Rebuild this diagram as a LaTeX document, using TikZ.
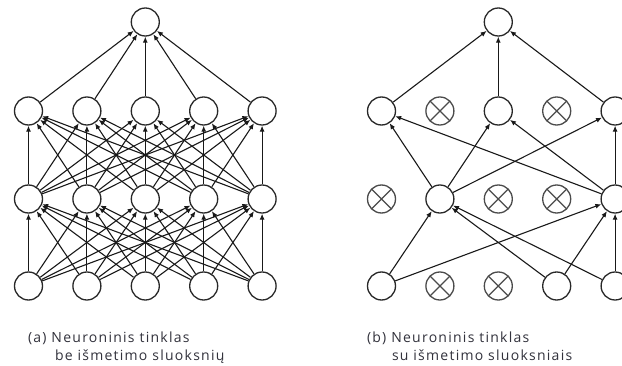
\documentclass[tikz,border=0pt]{standalone}
\usepackage{fontspec}
\setmainfont{Open Sans}
\usetikzlibrary{arrows.meta}

\tikzset{
  neuron/.style={circle,draw=nodeColor,line width=1.3pt,fill=white,minimum size=28pt,inner sep=0pt},
  dropped/.style={neuron,draw=dropColor,path picture={
      \draw[dropColor,line width=1.2pt]
        (path picture bounding box.north west) -- (path picture bounding box.south east)
        (path picture bounding box.south west) -- (path picture bounding box.north east);}},
  link/.style={draw=linkColor,line width=1.1pt,-{Latex[length=6pt,width=5pt]}},
  caption/.style={text=textColor,anchor=base west,inner sep=0pt,outer sep=0pt,
    font=\fontsize{14}{17}\selectfont\addfontfeature{LetterSpace=9}}
}

\begin{document}
\begin{tikzpicture}[x=1pt,y=1pt]
\definecolor{fillColor}{RGB}{255,255,255}
\definecolor{nodeColor}{RGB}{40,40,40}
\definecolor{dropColor}{RGB}{75,75,75}
\definecolor{linkColor}{RGB}{25,25,25}
\definecolor{textColor}{RGB}{50,50,60}
\path[use as bounding box,fill=fillColor] (0,0) rectangle (622,365);
\begin{scope}
\path[clip] (0,0) rectangle (622,365);

% (a) full network
\node[neuron] (a-out) at (145.3,343) {};
\foreach \i/\x in {1/28.5,2/86.9,3/145.3,4/203.7,5/262.1}{
  \node[neuron] (a-h2-\i) at (\x,254) {};
  \node[neuron] (a-h1-\i) at (\x,166) {};
  \node[neuron] (a-in-\i) at (\x,79) {};
}
\foreach \i in {1,...,5}{
  \draw[link] (a-h2-\i) -- (a-out);
  \foreach \j in {1,...,5}{
    \draw[link] (a-in-\i) -- (a-h1-\j);
    \draw[link] (a-h1-\i) -- (a-h2-\j);
  }
}

% (b) thinned network
\node[neuron] (b-out) at (498.3,343) {};

\node[neuron]  (b-h2-1) at (381.5,254) {};
\node[dropped] (b-h2-2) at (439.9,254) {};
\node[neuron]  (b-h2-3) at (498.3,254) {};
\node[dropped] (b-h2-4) at (556.7,254) {};
\node[neuron]  (b-h2-5) at (615.1,254) {};

\node[dropped] (b-h1-1) at (381.5,166) {};
\node[neuron]  (b-h1-2) at (439.9,166) {};
\node[dropped] (b-h1-3) at (498.3,166) {};
\node[dropped] (b-h1-4) at (556.7,166) {};
\node[neuron]  (b-h1-5) at (615.1,166) {};

\node[neuron]  (b-in-1) at (381.5,79) {};
\node[dropped] (b-in-2) at (439.9,79) {};
\node[dropped] (b-in-3) at (498.3,79) {};
\node[neuron]  (b-in-4) at (556.7,79) {};
\node[neuron]  (b-in-5) at (615.1,79) {};

\draw[link] (b-h2-1) -- (b-out);
\draw[link] (b-h2-3) -- (b-out);
\draw[link] (b-h2-5) -- (b-out);

\draw[link] (b-h1-2) -- (b-h2-1);
\draw[link] (b-h1-2) -- (b-h2-3);
\draw[link] (b-h1-2) -- (b-h2-5);
\draw[link] (b-h1-5) -- (b-h2-1);
\draw[link] (b-h1-5) -- (b-h2-3);
\draw[link] (b-h1-5) -- (b-h2-5);

\draw[link] (b-in-1) -- (b-h1-2);
\draw[link] (b-in-1) -- (b-h1-5);
\draw[link] (b-in-4) -- (b-h1-2);
\draw[link] (b-in-4) -- (b-h1-5);
\draw[link] (b-in-5) -- (b-h1-2);
\draw[link] (b-in-5) -- (b-h1-5);

% captions
\node[caption] (capA1) at (28,23) {(a) Neuroninis tinklas};
\node[caption] (capA2) at (55,5) {be išmetimo sluoksnių};
\node[caption] (capB1) at (367,23) {(b) Neuroninis tinklas};
\node[caption] (capB2) at (392,5) {su išmetimo sluoksniais};
\end{scope}
\end{tikzpicture}
\end{document}
